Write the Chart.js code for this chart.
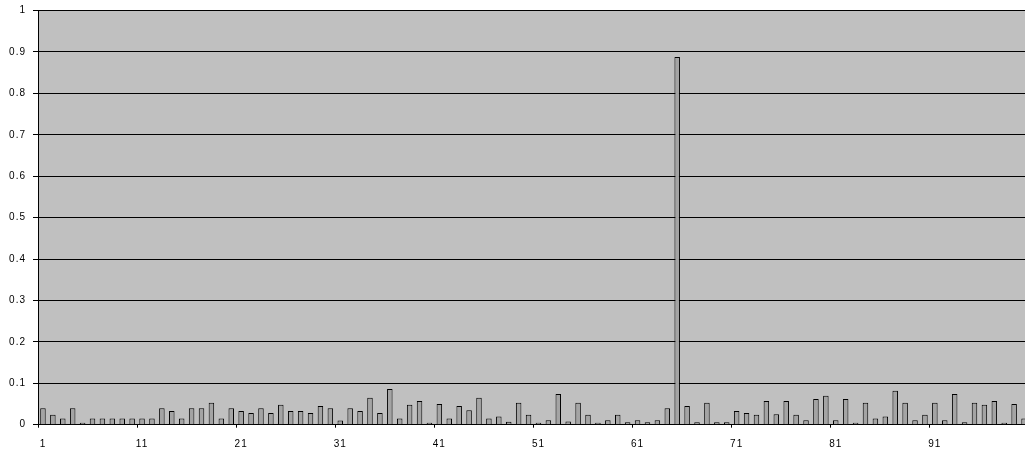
<!DOCTYPE html>
<html>
<head>
<meta charset="utf-8">
<script src="https://cdn.jsdelivr.net/npm/chart.js@4/dist/chart.umd.min.js"></script>
<style>
  html, body { margin: 0; padding: 0; background: #ffffff; overflow: hidden; }
  #wrap { width: 1025px; height: 457px; position: relative; overflow: hidden; }
  #c { position: absolute; left: 0; top: 0; }
</style>
</head>
<body>
<div id="wrap"><canvas id="c" width="1029" height="457"></canvas></div>
<script>
// Categories 1..100 and their measured values
const categories = [];
for (let i = 1; i <= 100; i++) categories.push(String(i));

const values = [
  0.040, 0.024, 0.015, 0.040, 0.002, 0.015, 0.015, 0.015, 0.015, 0.015,
  0.015, 0.015, 0.040, 0.033, 0.015, 0.040, 0.040, 0.053, 0.015, 0.040,
  0.033, 0.028, 0.040, 0.028, 0.048, 0.033, 0.033, 0.028, 0.045, 0.040,
  0.010, 0.040, 0.033, 0.065, 0.028, 0.086, 0.015, 0.048, 0.057, 0.003,
  0.050, 0.015, 0.045, 0.035, 0.065, 0.015, 0.020, 0.007, 0.053, 0.024,
  0.002, 0.011, 0.074, 0.008, 0.053, 0.024, 0.003, 0.011, 0.024, 0.006,
  0.011, 0.006, 0.011, 0.040, 0.888, 0.045, 0.006, 0.053, 0.006, 0.006,
  0.033, 0.028, 0.024, 0.057, 0.025, 0.057, 0.024, 0.011, 0.062, 0.070,
  0.011, 0.062, 0.003, 0.053, 0.015, 0.020, 0.082, 0.053, 0.011, 0.024,
  0.053, 0.011, 0.074, 0.006, 0.053, 0.048, 0.057, 0.003, 0.050, 0.015
];

// Value axis ticks
const yTicks = [0, 0.1, 0.2, 0.3, 0.4, 0.5, 0.6, 0.7, 0.8, 0.9, 1];

// Grey plot area fill plus slightly spaced tick text
const plotBackground = {
  id: 'plotBackground',
  beforeDraw(chart) {
    const { ctx, chartArea: a } = chart;
    ctx.save();
    ctx.fillStyle = '#c0c0c0';
    ctx.fillRect(a.left, a.top, a.right - a.left, a.bottom - a.top);
    ctx.restore();
    ctx.letterSpacing = '1px';
  }
};

const font = { family: '"Liberation Sans", Arial, sans-serif', size: 10 };

function noEdgePadding(scale) {
  scale.paddingLeft = 0;
  scale.paddingRight = 0;
  scale.paddingTop = 0;
  scale.paddingBottom = 0;
}

new Chart(document.getElementById('c'), {
  type: 'bar',
  data: {
    labels: categories,
    datasets: [{
      data: values,
      backgroundColor: '#a4a4a4',
      borderColor: '#000000',
      borderWidth: 1,
      minBarLength: 2,
      categoryPercentage: 1.0,
      barPercentage: 0.556
    }]
  },
  options: {
    responsive: false,
    animation: false,
    devicePixelRatio: 1,
    layout: { padding: { top: 10.5, right: 0, left: 0, bottom: 0 } },
    plugins: { legend: { display: false }, tooltip: { enabled: false } },
    scales: {
      x: {
        offset: true,
        grid: {
          offset: true,
          drawOnChartArea: false,
          drawTicks: true,
          tickLength: 3,
          color: (ctx) => (ctx.index % 10 === 0 ? '#000000' : 'rgba(0,0,0,0)')
        },
        border: { display: true, color: '#000000', width: 1 },
        ticks: {
          autoSkip: false,
          maxRotation: 0,
          minRotation: 0,
          padding: 11,
          color: '#000000',
          font: font,
          callback: function (value, index) {
            return index % 10 === 0 ? categories[index] : '';
          }
        },
        afterFit(scale) { scale.height = 32.3; noEdgePadding(scale); }
      },
      y: {
        min: 0,
        max: 1,
        afterBuildTicks(scale) {
          scale.ticks = yTicks.map(v => ({ value: v }));
        },
        grid: {
          color: '#000000',
          lineWidth: 1,
          drawTicks: true,
          tickLength: 5
        },
        border: { display: true, color: '#000000', width: 1 },
        ticks: {
          padding: 7,
          color: '#000000',
          font: font,
          callback: (v) => String(Math.round(v * 10) / 10)
        },
        afterFit(scale) { scale.width = 38; noEdgePadding(scale); }
      }
    }
  },
  plugins: [plotBackground]
});
</script>
</body>
</html>
